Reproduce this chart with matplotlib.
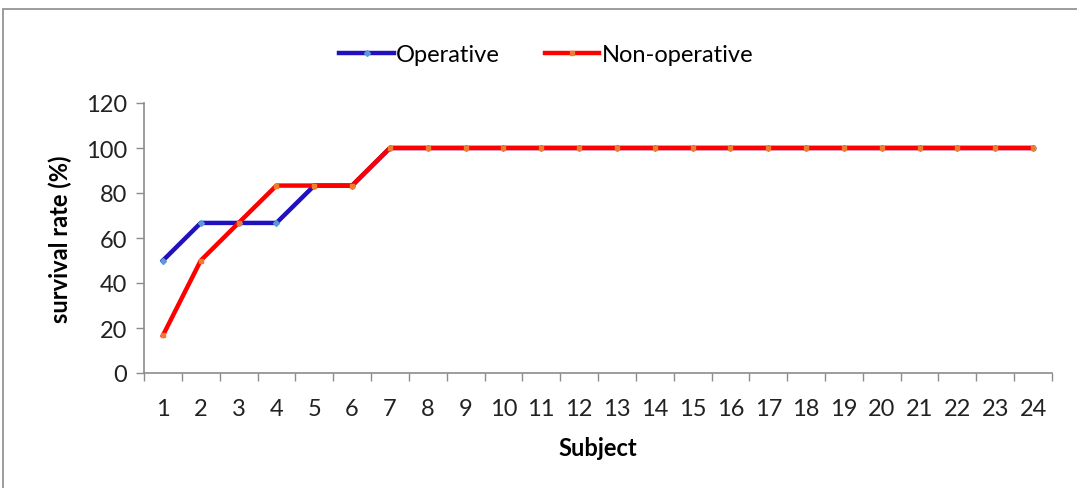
import matplotlib.pyplot as plt
from matplotlib.patches import Rectangle
from matplotlib.ticker import FixedLocator, NullFormatter

subjects = list(range(1, 25))
operative = [50, 66.7, 66.7, 66.7, 83.3, 83.3] + [100] * 18
non_operative = [16.7, 50, 66.7, 83.3, 83.3, 83.3] + [100] * 18
y_ticks = [0, 20, 40, 60, 80, 100, 120]

plt.rcParams['font.family'] = ['Lato', 'DejaVu Sans']
fs = 17

fig = plt.figure(figsize=(10.77, 4.89), dpi=100)
ax = fig.add_axes([144 / 1077, 115 / 489, (1052 - 144) / 1077, 270 / 489])

# outer chart frame, cut off at right and bottom as in the picture
fig.patches.append(Rectangle((3 / 1077, -0.1), 1.2, (489 - 10) / 489 + 0.1,
                             transform=fig.transFigure, fill=False,
                             edgecolor='#8c8c8c', linewidth=1.2))

ax.plot(subjects, operative, color='#2010c0', linewidth=3.2,
        marker='D', markersize=3, markerfacecolor='#5b9bd5',
        markeredgecolor='#5b9bd5', label='Operative', zorder=3)
ax.plot(subjects, non_operative, color='#ff0000', linewidth=3.2,
        marker='s', markersize=3.5, markerfacecolor='#ed7d31',
        markeredgecolor='#ed7d31', label='Non-operative', zorder=4)

ax.set_xlim(0.5, 24.5)
ax.set_ylim(0, 120)
ax.set_yticks(y_ticks)
ax.set_xticks(subjects)
ax.tick_params(axis='x', which='major', length=0, pad=18, labelsize=fs,
               labelcolor='#222222')
ax.xaxis.set_minor_locator(FixedLocator([i + 0.5 for i in range(0, 25)]))
ax.xaxis.set_minor_formatter(NullFormatter())
ax.tick_params(axis='x', which='minor', length=6, color='#8c8c8c', width=1)
ax.tick_params(axis='y', length=6, color='#8c8c8c', width=1, pad=6,
               labelsize=fs, labelcolor='#222222')

for side in ['top', 'right']:
    ax.spines[side].set_visible(False)
for side in ['left', 'bottom']:
    ax.spines[side].set_color('#8c8c8c')
    ax.spines[side].set_linewidth(1.2)

ax.set_xlabel('Subject', fontsize=fs, fontweight='bold', labelpad=12)
ax.set_ylabel('survival rate (%)', fontsize=fs, fontweight='bold', labelpad=10)

ax.legend(loc='center', bbox_to_anchor=(0.443, 1.18), ncol=2,
          frameon=False, fontsize=fs, handlelength=2.3, handletextpad=0.1,
          columnspacing=1.9)

fig.savefig('out.png', dpi=100)
